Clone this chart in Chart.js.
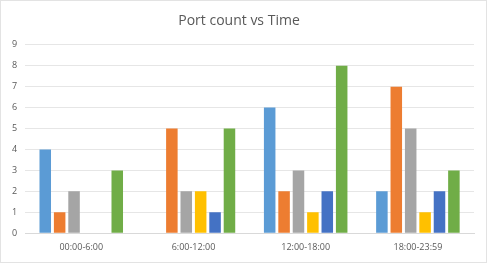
<!DOCTYPE html>
<html>
<head>
<meta charset="utf-8">
<script src="https://cdn.jsdelivr.net/npm/chart.js@4/dist/chart.umd.min.js"></script>
<style>
  body { margin: 0; background: #fff; }
  #wrap { width: 487px; height: 263px; box-sizing: border-box; border: 1px solid #e3e3e3; }
</style>
</head>
<body>
<div id="wrap"><canvas id="myChart" width="485" height="261"></canvas></div>
<script>
const categories = ['00:00-6:00', '6:00-12:00', '12:00-18:00', '18:00-23:59'];
const series1 = [4, 0, 6, 2];
const series2 = [1, 5, 2, 7];
const series3 = [2, 2, 3, 5];
const series4 = [0, 2, 1, 1];
const series5 = [0, 1, 2, 2];
const series6 = [3, 5, 8, 3];
const colors = ['#5B9BD5', '#ED7D31', '#A5A5A5', '#FFC000', '#4472C4', '#70AD47'];

const allSeries = [series1, series2, series3, series4, series5, series6];

const ctx = document.getElementById('myChart').getContext('2d');
const myChart = new Chart(ctx, {
    type: 'bar',
    data: {
        labels: categories,
        datasets: allSeries.map((s, i) => ({
            label: 'Series' + (i + 1),
            data: s,
            backgroundColor: colors[i],
            borderWidth: 0,
            barPercentage: 0.8,
            categoryPercentage: 0.77,
        })),
    },
    options: {
        responsive: false,
        animation: false,
        layout: { padding: { top: 8, right: 12, left: 3, bottom: 0 } },
        plugins: {
            legend: { display: false },
            tooltip: { enabled: false },
            title: {
                display: true,
                text: 'Port count vs Time',
                color: '#595959',
                font: { family: 'Open Sans', size: 14, weight: 'normal' },
                padding: { top: 4, bottom: 15 },
            },
        },
        scales: {
            x: {
                grid: { display: false, drawTicks: false },
                border: { color: '#d9d9d9' },
                ticks: { color: '#595959', font: { family: 'Open Sans', size: 9 }, padding: 9 },
            },
            y: {
                min: 0,
                max: 9,
                ticks: { stepSize: 1, color: '#595959', font: { family: 'Open Sans', size: 9 }, padding: 8 },
                grid: { color: '#e6e6e6', drawTicks: false },
                border: { display: false },
            },
        },
    },
});
</script>
</body>
</html>
